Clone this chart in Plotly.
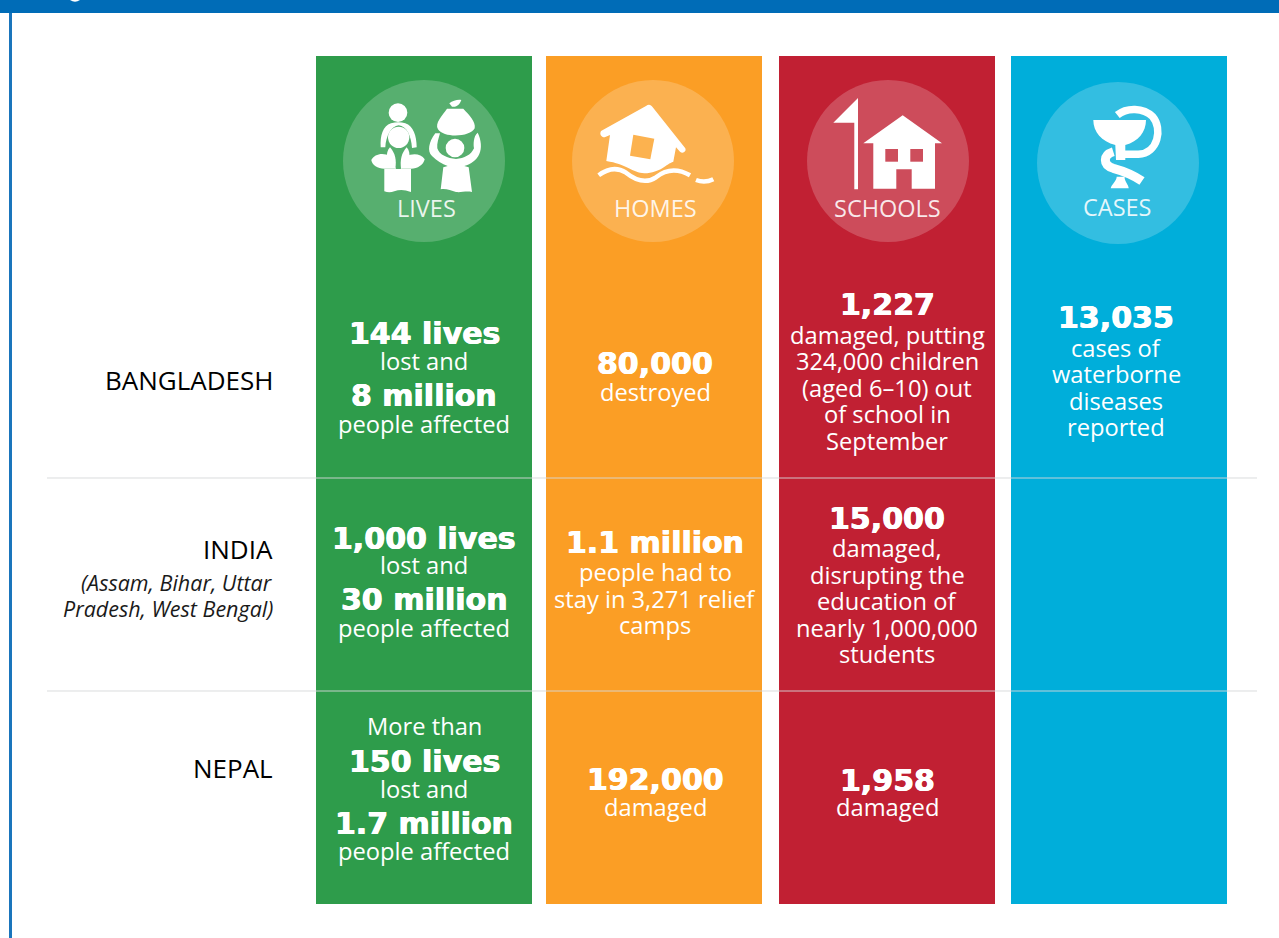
import plotly.graph_objects as go

# ---------- data ----------
categories = ["LIVES", "HOMES", "SCHOOLS", "CASES"]
countries = ["BANGLADESH", "INDIA", "NEPAL"]
india_note = ["(Assam, Bihar, Uttar", "Pradesh, West Bengal)"]

# each line: (text, is_bold)
lives = [
    [("144 lives", 1), ("lost and", 0), ("8 million", 1), ("people affected", 0)],
    [("1,000 lives", 1), ("lost and", 0), ("30 million", 1), ("people affected", 0)],
    [("More than", 0), ("150 lives", 1), ("lost and", 0), ("1.7 million", 1), ("people affected", 0)],
]
homes = [
    [("80,000", 1), ("destroyed", 0)],
    [("1.1 million", 1), ("people had to", 0), ("stay in 3,271 relief", 0), ("camps", 0)],
    [("192,000", 1), ("damaged", 0)],
]
schools = [
    [("1,227", 1), ("damaged, putting", 0), ("324,000 children", 0), ("(aged 6–10) out", 0), ("of school in", 0), ("September", 0)],
    [("15,000", 1), ("damaged,", 0), ("disrupting the", 0), ("education of", 0), ("nearly 1,000,000", 0), ("students", 0)],
    [("1,958", 1), ("damaged", 0)],
]
cases = [
    [("13,035", 1), ("cases of", 0), ("waterborne", 0), ("diseases", 0), ("reported", 0)],
]

# ---------- layout constants ----------
W, H = 1279, 938
COL_CX = [424, 654, 887, 1119]
COL_W = 216
COL_TOP, COL_BOTTOM = 56, 904
COL_COLORS = ["#2E9C4B", "#FB9E25", "#C12033", "#00AEDA"]
TEXT_CX = [424, 655, 887, 1116]
CIRCLES = [(424, 161), (653, 161), (888, 161), (1118, 163)]
CIRCLE_R = 81
LABEL_Y = [208, 208, 208, 207]
LABEL_X = [426, 655, 887, 1117]
Y_LINES = {
    0: [[333, 361, 395, 424], [538, 565, 599, 628], [726, 761, 789, 823, 851]],
    1: [[363, 392], [542, 572, 599, 625], [779, 807]],
    2: [[304, 335, 361, 388, 414, 441], [518, 548, 575, 601, 628, 654], [780, 807]],
    3: [[317, 348, 374, 401, 427]],
}
ROW_LABEL_Y = [380, 549, 768]
NOTE_Y = [582, 608]
SEPARATORS = [478, 691]
REG = "Open Sans"
BOLD = "DejaVu Sans"
REG_SIZE = 23.7
LABEL_SIZE = 23.5
BOLD_SIZE = 30
ROW_SIZE = 26
NOTE_SIZE = 21.5
HEAVY = "0.5px 0 0 white, -0.5px 0 0 white"

fig = go.Figure()
fig.add_trace(go.Bar(
    x=COL_CX, y=[COL_BOTTOM - COL_TOP] * 4, base=[COL_TOP] * 4, width=[COL_W] * 4,
    marker=dict(color=COL_COLORS, line=dict(width=0)),
    hoverinfo="skip", showlegend=False,
))

shapes, annotations = [], []
# frame
shapes.append(dict(type="rect", x0=0, x1=W, y0=0, y1=13, fillcolor="#006CB7", line_width=0))
shapes.append(dict(type="rect", x0=9, x1=12, y0=13, y1=H, fillcolor="#1A75BC", line_width=0))
shapes.append(dict(type="path", path="M 70,0 Q 75,3.5 80,0 Z", fillcolor="white", line_width=0))
for y in SEPARATORS:
    shapes.append(dict(type="line", x0=47, x1=1257, y0=y, y1=y, line=dict(color="rgba(214,216,217,0.9)", width=1)))
for cx, cy in CIRCLES:
    shapes.append(dict(type="circle", x0=cx - CIRCLE_R, x1=cx + CIRCLE_R, y0=cy - CIRCLE_R, y1=cy + CIRCLE_R,
                       fillcolor="rgba(255,255,255,0.2)", line_width=0))


def path(ox, oy, pts):
    """Icon outline from 3x zoom coordinates: pts mix of M/L/Q/C/Z tokens."""
    out = []
    for t in pts.split():
        if "," in t:
            a, b = t.split(",")
            out.append(f"{ox + float(a) / 3:.1f},{oy + float(b) / 3:.1f}")
        else:
            out.append(t)
    return " ".join(out)


def white(ox, oy, pts, color="white"):
    shapes.append(dict(type="path", path=path(ox, oy, pts), fillcolor=color, line_width=0))


def stroke(ox, oy, pts, w):
    shapes.append(dict(type="path", path=path(ox, oy, pts), line=dict(color="white", width=w), fillcolor="rgba(0,0,0,0)"))


def disc(ox, oy, x, y, r, color="white"):
    shapes.append(dict(type="circle", x0=ox + (x - r) / 3, x1=ox + (x + r) / 3, y0=oy + (y - r) / 3, y1=oy + (y + r) / 3,
                       fillcolor=color, line_width=0))


# LIVES icon
ox, oy = 316, 60
disc(ox, oy, 246, 158, 28)
white(ox, oy, "M 225,190 C 200,197 192,228 194,262 L 208,262 C 210,228 225,198 248,196 C 272,198 286,228 288,264 L 302,262 C 302,228 292,197 268,190 C 255,186 240,186 225,190 Z")
disc(ox, oy, 248, 232, 32)
white(ox, oy, "M 166,300 C 175,282 200,276 222,288 C 228,300 232,310 240,326 L 205,326 C 185,326 168,315 166,300 Z")
white(ox, oy, "M 326,298 C 315,281 290,278 270,290 C 266,302 262,312 254,326 L 285,326 C 305,326 322,315 326,298 Z")
white(ox, oy, "M 222,262 C 206,280 210,305 238,326 C 242,300 238,280 222,262 Z")
white(ox, oy, "M 272,262 C 287,280 282,305 255,326 C 252,300 256,280 272,262 Z")
white(ox, oy, "M 205,327 L 285,327 L 285,396 C 265,388 250,388 235,394 C 225,398 215,398 205,394 Z")
white(ox, oy, "M 400,130 C 410,122 425,118 436,120 C 432,132 424,142 408,140 Z")
white(ox, oy, "M 393,146 L 442,146 C 460,165 480,185 476,205 C 465,230 385,236 366,208 C 355,190 380,165 393,146 Z")
disc(ox, oy, 417, 264, 28)
white(ox, oy, "M 358,220 C 338,245 333,275 348,288 C 362,302 378,312 395,318 L 382,322 L 374,388 C 390,385 405,392 420,396 C 435,398 450,392 468,396 L 458,322 L 445,318 C 465,312 482,300 490,282 C 498,265 496,240 485,218 C 472,228 472,255 474,265 C 465,285 445,295 420,297 C 395,295 370,285 364,265 C 362,250 368,235 372,220 Z")

CIRC2 = "#FCB24F"
# HOMES icon
ox, oy = 316, 60
white(ox, oy, "M 855,213 L 990,138 C 998,132 1005,134 1010,142 L 1108,265 C 1112,275 1100,282 1092,275 L 1080,262 L 1072,305 C 1050,312 1035,338 985,340 C 950,338 930,312 871,303 L 882,225 L 866,232 C 855,232 850,222 855,213 Z")
white(ox, oy, "M 952,224 L 1015,236 L 1003,298 L 942,287 Z", CIRC2)
stroke(ox, oy, "M 848,346 C 880,322 905,322 930,338 C 960,362 990,372 1020,352 C 1050,328 1085,325 1122,346", 4.5)
stroke(ox, oy, "M 1140,360 C 1155,366 1175,366 1192,358", 4.5)

CIRC3 = "#CD4E5C"
# SCHOOLS icon
ox, oy = 780, 60
white(ox, oy, "M 234,114 L 234,388 L 223,388 L 223,188 L 160,188 Z")
white(ox, oy, "M 250,250 L 368,166 L 486,250 L 465,250 L 465,386 L 395,386 L 395,328 L 349,328 L 349,386 L 280,386 L 280,250 Z")
white(ox, oy, "M 316,267 L 354,267 L 354,305 L 316,305 Z", CIRC3)
white(ox, oy, "M 391,267 L 429,267 L 429,305 L 391,305 Z", CIRC3)

# CASES icon
ox, oy = 780, 60
stroke(ox, oy, "M 1012,165 C 1040,142 1090,142 1118,170 C 1148,205 1135,280 1075,283 L 1035,283", 7.5)
white(ox, oy, "M 940,180 L 1098,180 C 1098,215 1075,245 1036,255 L 1036,300 L 1008,300 L 1006,255 C 965,245 940,215 940,180 Z")
white(ox, oy, "M 1010,350 L 1034,350 C 1032,362 1046,374 1046,385 L 992,385 C 994,374 1010,362 1010,350 Z")
stroke(ox, oy, "M 1000,275 C 968,285 968,315 1000,325 C 1030,333 1060,345 1086,363", 9)

# text
for x, y, c in zip(LABEL_X, LABEL_Y, categories):
    annotations.append(dict(x=x, y=y, text=c, font=dict(family=REG, size=LABEL_SIZE, color="rgba(255,255,255,0.88)")))

for col, rows in enumerate([lives, homes, schools, cases]):
    for r, lines in enumerate(rows):
        for (txt, bold), y in zip(lines, Y_LINES[col][r]):
            font = dict(family=BOLD if bold else REG, size=BOLD_SIZE if bold else REG_SIZE, color="white")
            if bold:
                font["shadow"] = HEAVY
            annotations.append(dict(x=TEXT_CX[col], y=y, text=f"<b>{txt}</b>" if bold else txt, font=font))

for name, y in zip(countries, ROW_LABEL_Y):
    annotations.append(dict(x=273, y=y, text=name, xanchor="right",
                            font=dict(family=REG, size=ROW_SIZE, color="#000000")))
for line, y in zip(india_note, NOTE_Y):
    annotations.append(dict(x=273, y=y, text=f"<i>{line}</i>", xanchor="right",
                            font=dict(family=REG, size=NOTE_SIZE, color="#1a1a1a")))

for a in annotations:
    a.update(xref="x", yref="y", showarrow=False, yanchor="middle", borderpad=0, borderwidth=0)
    a.setdefault("xanchor", "center")

fig.update_layout(
    width=W, height=H, margin=dict(l=0, r=0, t=0, b=0), autosize=False,
    paper_bgcolor="white", plot_bgcolor="white", shapes=shapes, annotations=annotations,
    xaxis=dict(range=[0, W], visible=False, fixedrange=True),
    yaxis=dict(range=[H, 0], visible=False, fixedrange=True),
    bargap=0, showlegend=False,
)
fig.write_html("out.html", post_script="document.body.style.margin='0';document.body.style.overflow='hidden';",
               config={"displayModeBar": False})
